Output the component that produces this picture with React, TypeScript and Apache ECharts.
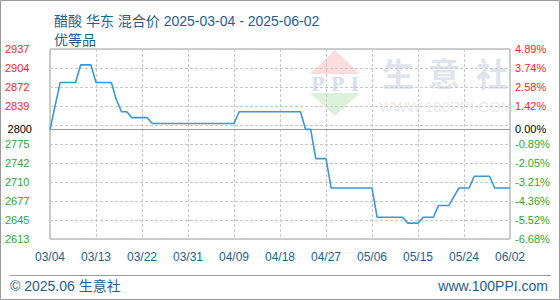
import React, { useEffect, useRef } from "react";
import * as echarts from "echarts";

// Acetic acid (East China, mixed price), daily, 2025-03-04 .. 2025-06-02
const START_DATE = "2025-03-04";
const DAY_COUNT = 91;

const prices: number[] = [
  2800, 2840, 2880, 2880, 2880, 2880, 2910, 2910, 2910, 2880,
  2880, 2880, 2880, 2850, 2830, 2830, 2820, 2820, 2820, 2820,
  2810, 2810, 2810, 2810, 2810, 2810, 2810, 2810, 2810, 2810,
  2810, 2810, 2810, 2810, 2810, 2810, 2810, 2830, 2830, 2830,
  2830, 2830, 2830, 2830, 2830, 2830, 2830, 2830, 2830, 2830,
  2800, 2800, 2750, 2750, 2750, 2700, 2700, 2700, 2700, 2700,
  2700, 2700, 2700, 2700, 2650, 2650, 2650, 2650, 2650, 2650,
  2640, 2640, 2640, 2650, 2650, 2650, 2670, 2670, 2670, 2685,
  2700, 2700, 2700, 2720, 2720, 2720, 2720, 2700, 2700, 2700,
  2700,
];

const BASE_PRICE = 2800;
const Y_MIN = 2613;
const Y_MAX = 2937;
const Y_STEP = 32.4;

const TITLE_LINE_1 = "醋酸 华东 混合价 2025-03-04 - 2025-06-02";
const TITLE_LINE_2 = "优等品";
const COPYRIGHT = "© 2025.06 生意社";
const SITE_URL = "www.100PPI.com";

function buildDates(start: string, count: number): string[] {
  const out: string[] = [];
  const d0 = new Date(start + "T00:00:00Z");
  for (let i = 0; i < count; i++) {
    const d = new Date(d0.getTime() + i * 86400000);
    const mm = String(d.getUTCMonth() + 1).padStart(2, "0");
    const dd = String(d.getUTCDate()).padStart(2, "0");
    out.push(`${mm}/${dd}`);
  }
  return out;
}

const dates = buildDates(START_DATE, DAY_COUNT);

const FONT = '"Liberation Sans", "Noto Sans CJK SC", sans-serif';
const RED = "#ff2626";
const GREEN = "#2ea82e";
const BLUE_TEXT = "#1d6193";
const AXIS_FONT_SIZE = 11;

function pct(v: number): number {
  return (v / BASE_PRICE - 1) * 100;
}

function levelColor(v: number): string {
  if (Math.abs(v - BASE_PRICE) < 1e-6) return "#000";
  return v > BASE_PRICE ? RED : GREEN;
}

// the tick nearest the base price is replaced by the base line itself
function isHiddenTick(v: number): boolean {
  return Math.abs(v - (Y_MIN + 6 * Y_STEP)) < 1e-3;
}

export default function App() {
  const ref = useRef<HTMLDivElement>(null);

  useEffect(() => {
    if (!ref.current) return;
    const chart = echarts.init(ref.current, undefined, { renderer: "svg" });

    const option: echarts.EChartsOption = {
      animation: false,
      backgroundColor: "#fff",
      textStyle: { fontFamily: FONT },
      title: {
        text: TITLE_LINE_1 + "\n" + TITLE_LINE_2,
        left: 49,
        top: 6,
        textStyle: {
          color: BLUE_TEXT,
          fontSize: 14,
          fontWeight: "normal",
          lineHeight: 19,
          fontFamily: FONT,
        },
      },
      grid: {
        left: 50,
        right: 50,
        top: 49,
        bottom: 61,
        show: true,
        borderColor: "#9a9a9a",
        borderWidth: 1,
      },
      graphic: [
        // watermark: logo
        {
          type: "polygon",
          silent: true,
          z: -10,
          shape: { points: [[335, 50], [360, 74], [310, 74]] },
          style: { fill: "#fadcdc" },
        },
        {
          type: "polygon",
          silent: true,
          z: -10,
          shape: { points: [[310, 93], [360, 93], [335, 116]] },
          style: { fill: "#dcf1dc" },
        },
        {
          type: "text",
          silent: true,
          z: -10,
          x: 335,
          y: 84,
          style: {
            text: "P P I",
            fill: "#d8deec",
            font: 'bold 18px "DejaVu Serif", serif',
            align: "center",
            verticalAlign: "middle",
          },
        },
        {
          type: "text",
          silent: true,
          z: -10,
          x: 398,
          y: 72,
          style: {
            text: "生",
            fill: "#dfe3ee",
            font: 'bold 32px "Noto Sans CJK SC", sans-serif',
            align: "center",
            verticalAlign: "middle",
          },
        },
        {
          type: "text",
          silent: true,
          z: -10,
          x: 444,
          y: 72,
          style: {
            text: "意",
            fill: "#dfe3ee",
            font: 'bold 32px "Noto Sans CJK SC", sans-serif',
            align: "center",
            verticalAlign: "middle",
          },
        },
        {
          type: "text",
          silent: true,
          z: -10,
          x: 492,
          y: 72,
          style: {
            text: "社",
            fill: "#dfe3ee",
            font: 'bold 32px "Noto Sans CJK SC", sans-serif',
            align: "center",
            verticalAlign: "middle",
          },
        },
        {
          type: "text",
          silent: true,
          z: -10,
          x: 446,
          y: 106,
          style: {
            text: "WWW.100PPI.COM",
            fill: "#ebebeb",
            font: '15px "Liberation Sans", sans-serif',
            align: "center",
            verticalAlign: "middle",
          },
        },
        // footer
        {
          type: "line",
          silent: true,
          shape: { x1: 10, y1: 275.5, x2: 551, y2: 275.5 },
          style: { stroke: "#9a9a9a", lineWidth: 1 },
        },
        {
          type: "text",
          silent: true,
          x: 10,
          y: 286,
          style: {
            text: COPYRIGHT,
            fill: BLUE_TEXT,
            font: '14px "Liberation Sans", "Noto Sans CJK SC", sans-serif',
            align: "left",
            verticalAlign: "middle",
          },
        },
        {
          type: "text",
          silent: true,
          x: 548,
          y: 286,
          style: {
            text: SITE_URL,
            fill: BLUE_TEXT,
            font: '14px "Liberation Sans", sans-serif',
            align: "right",
            verticalAlign: "middle",
          },
        },
        // outer frame
        {
          type: "rect",
          silent: true,
          shape: { x: 0.5, y: 0.5, width: 559, height: 299 },
          style: { fill: "none", stroke: "#9a9a9a", lineWidth: 1 },
        },
      ],
      xAxis: {
        type: "category",
        data: dates,
        boundaryGap: false,
        axisLine: { show: false },
        axisTick: { show: false },
        axisLabel: {
          interval: 8,
          margin: 12,
          color: BLUE_TEXT,
          fontSize: 12,
          fontFamily: FONT,
        },
        splitLine: {
          show: true,
          interval: 8,
          lineStyle: { color: "#c8c8c8", type: [3, 2], width: 1 },
        },
      },
      yAxis: [
        {
          type: "value",
          min: Y_MIN,
          max: Y_MAX,
          interval: Y_STEP,
          axisLine: { show: false },
          axisTick: { show: false },
          axisLabel: {
            align: "left",
            margin: 45,
            fontSize: AXIS_FONT_SIZE,
            fontFamily: FONT,
            color: ((v: number) => levelColor(v)) as any,
            formatter: (v: number) =>
              isHiddenTick(v) ? "" : String(Math.floor(v + 1e-6)),
          },
          splitLine: {
            show: true,
            lineStyle: { color: "#c8c8c8", type: [3, 2], width: 1 },
          },
        },
        {
          type: "value",
          position: "right",
          min: Y_MIN,
          max: Y_MAX,
          interval: Y_STEP,
          axisLine: { show: false },
          axisTick: { show: false },
          splitLine: { show: false },
          axisLabel: {
            margin: 5,
            fontSize: AXIS_FONT_SIZE,
            fontFamily: FONT,
            color: ((v: number) => levelColor(v)) as any,
            formatter: (v: number) =>
              isHiddenTick(v) ? "" : pct(v).toFixed(2) + "%",
          },
        },
      ],
      series: [
        {
          type: "line",
          data: prices,
          showSymbol: false,
          symbol: "none",
          lineStyle: { color: "#3a98d6", width: 1.6 },
          z: 5,
          markLine: {
            silent: true,
            symbol: "none",
            lineStyle: { color: "#9a9a9a", type: "solid", width: 1 },
            data: [
              {
                yAxis: BASE_PRICE,
                label: {
                  show: true,
                  position: "start",
                  distance: 18,
                  formatter: String(BASE_PRICE),
                  color: "#000",
                  fontSize: AXIS_FONT_SIZE,
                  fontFamily: FONT,
                },
              },
              {
                yAxis: BASE_PRICE,
                label: {
                  show: true,
                  position: "end",
                  distance: 5,
                  formatter: pct(BASE_PRICE).toFixed(2) + "%",
                  color: "#000",
                  fontSize: AXIS_FONT_SIZE,
                  fontFamily: FONT,
                },
              },
            ],
          },
        },
      ],
    };

    chart.setOption(option);
    return () => chart.dispose();
  }, []);

  return (
    <div
      ref={ref}
      style={{ position: "fixed", left: 0, top: 0, width: 560, height: 300 }}
    />
  );
}
